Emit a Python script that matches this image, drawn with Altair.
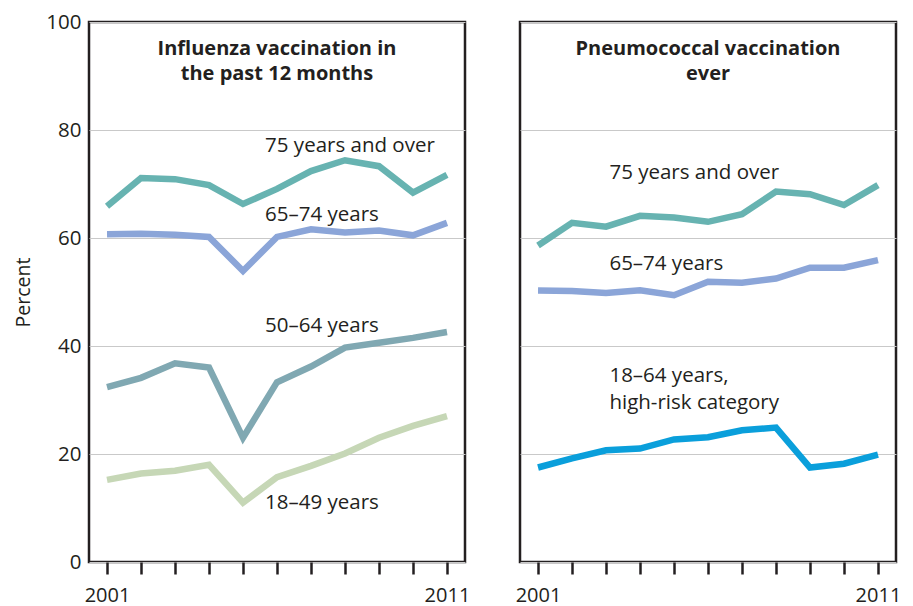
import altair as alt
import pandas as pd

years = list(range(2001, 2012))

# Influenza vaccination in the past 12 months
flu_75 = [65.9, 71.1, 70.9, 69.8, 66.3, 69.1, 72.4, 74.4, 73.3, 68.4, 71.7]
flu_65 = [60.7, 60.8, 60.6, 60.2, 53.9, 60.2, 61.6, 61.0, 61.4, 60.5, 62.8]
flu_50 = [32.4, 34.1, 36.8, 36.0, 23.0, 33.3, 36.2, 39.7, 40.6, 41.5, 42.6]
flu_18 = [15.2, 16.4, 16.9, 18.0, 11.0, 15.7, 17.8, 20.1, 23.0, 25.2, 27.0]

# Pneumococcal vaccination ever
pn_75 = [58.6, 62.8, 62.1, 64.1, 63.8, 63.0, 64.4, 68.6, 68.1, 66.1, 69.8]
pn_65 = [50.3, 50.2, 49.8, 50.3, 49.4, 51.9, 51.7, 52.5, 54.5, 54.5, 55.9]
pn_hr = [17.5, 19.2, 20.7, 21.0, 22.7, 23.1, 24.4, 24.9, 17.5, 18.2, 19.9]

series_names = ["75+", "65-74", "50-64", "18-49", "18-64hr"]
series_colors = ["#67b3b1", "#8ba5d8", "#80a8b2", "#c6d7b6", "#0a9fdb"]

flu_titles = ["Influenza vaccination in", "the past 12 months"]
pn_titles = ["Pneumococcal vaccination", "ever"]

flu_label_text = ["75 years and over", "65\u201374 years", "50\u201364 years", "18\u201349 years"]
flu_label_x = [2005.65, 2005.65, 2005.65, 2005.65]
flu_label_y = [77.0, 64.3, 43.7, 10.9]

pn_label_text = ["75 years and over", "65\u201374 years", "18\u201364 years,", "high-risk category"]
pn_label_x = [2003.1, 2003.1, 2003.1, 2003.1]
pn_label_y = [72.0, 55.2, 34.4, 29.5]

title_x = [2006, 2006]
title_y = [95.0, 90.4]

TXT = "#231f20"
FONT = "Open Sans"

def long_df(pairs):
    rows = []
    for name, vals in pairs:
        for yr, v in zip(years, vals):
            rows.append({"series": name, "year": yr, "value": v})
    return pd.DataFrame(rows)

xscale = alt.Scale(domain=[2000.47, 2011.53], nice=False, zero=False)
yscale = alt.Scale(domain=[0, 100], nice=False)
cscale = alt.Scale(domain=series_names, range=series_colors)

def panel(pairs, titles, ltext, lx, ly, show_y):
    df = long_df(pairs)
    yaxis = alt.Axis(
        values=[0, 20, 40, 60, 80, 100], grid=True, gridColor="#c9c9c9", gridWidth=1.2,
        ticks=False, domain=False, labels=show_y, labelFontSize=20.5, labelColor=TXT,
        labelFont=FONT, labelPadding=8,
        title="Percent" if show_y else None, titleFontSize=19.5, titleFontWeight="normal",
        titleFont=FONT, titleColor=TXT, titlePadding=12,
    )
    xaxis = alt.Axis(
        values=years, labelExpr="(datum.value == 2001 || datum.value == 2011) ? datum.value : ''",
        tickSize=12, tickWidth=2.5, tickColor=TXT, domain=False, grid=False,
        labelFontSize=20, labelFont=FONT, labelColor=TXT, labelPadding=11,
        title=None, labelFlush=False, labelOverlap=False,
    )
    X = alt.X("year:Q", scale=xscale, axis=xaxis)
    Y = alt.Y("value:Q", scale=yscale, axis=yaxis)
    lines = alt.Chart(df).mark_line(strokeWidth=6.5, strokeJoin="miter", strokeCap="butt").encode(
        x=X, y=Y,
        color=alt.Color("series:N", scale=cscale, legend=None),
        detail="series:N",
    )
    tdf = pd.DataFrame({"year": title_x, "value": title_y, "text": titles})
    tmark = alt.Chart(tdf).mark_text(
        font=FONT, fontSize=20, fontWeight="bold", color=TXT, align="center", baseline="middle"
    ).encode(x=X, y=Y, text="text:N")
    ldf = pd.DataFrame({"year": lx, "value": ly, "text": ltext})
    lmark = alt.Chart(ldf).mark_text(
        font=FONT, fontSize=20.5, color=TXT, align="left", baseline="middle"
    ).encode(x=X, y=Y, text="text:N")
    return alt.layer(lines, tmark, lmark).properties(width=376, height=540)

left = panel([("75+", flu_75), ("65-74", flu_65), ("50-64", flu_50), ("18-49", flu_18)],
             flu_titles, flu_label_text, flu_label_x, flu_label_y, True)
right = panel([("75+", pn_75), ("65-74", pn_65), ("18-64hr", pn_hr)],
              pn_titles, pn_label_text, pn_label_x, pn_label_y, False)

chart = alt.hconcat(left, right, spacing=41).properties(
    padding={"left": 4, "top": 2, "right": 0, "bottom": 0},
    background="white",
).configure_view(stroke=TXT, strokeWidth=2.5)

chart.save("out.html", embed_options={"renderer": "svg", "actions": False})
